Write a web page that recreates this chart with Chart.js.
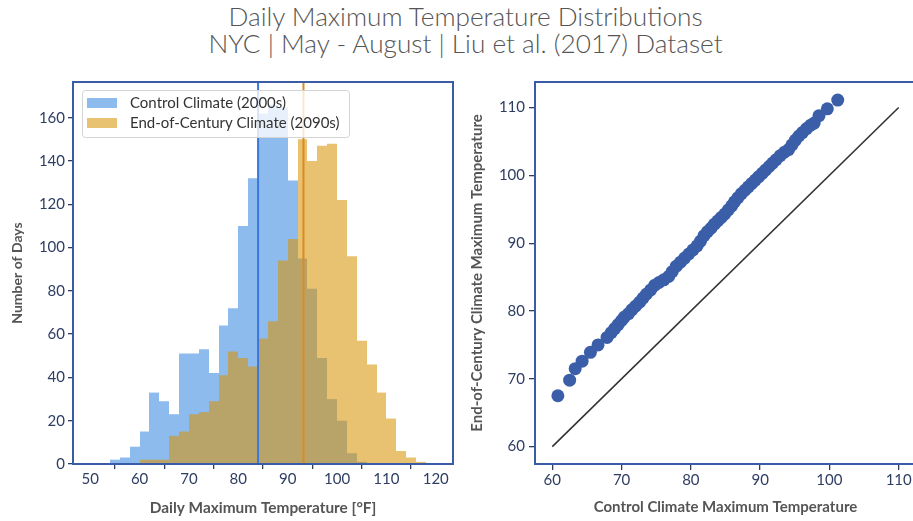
<!DOCTYPE html>
<html>
<head>
<meta charset="utf-8">
<script src="https://cdn.jsdelivr.net/npm/chart.js@4.4.0/dist/chart.umd.min.js"></script>
<style>
  body { margin: 0; width: 913px; height: 521px; overflow: hidden; background: #fff; position: relative; font-family: Lato, sans-serif; }
  #title { position: absolute; left: 9px; top: 3px; width: 913px; text-align: center; font-weight: 300; font-size: 26.2px; line-height: 27px; color: #555; }
  #histWrap { position: absolute; left: 0; top: 0; width: 460px; height: 521px; }
  #qqWrap { position: absolute; left: 460px; top: 0; width: 456px; height: 521px; }
</style>
</head>
<body>
<div id="title">Daily Maximum Temperature Distributions<br>NYC | May - August | Liu et al. (2017) Dataset</div>
<div id="histWrap"><canvas id="hist" width="460" height="521"></canvas></div>
<div id="qqWrap"><canvas id="qq" width="456" height="521"></canvas></div>
<script>
// histogram bins (centres of 2 °F bins) and day counts
const binCenters = [55, 57, 59, 61, 63, 65, 67, 69, 71, 73, 75, 77, 79, 81, 83, 85,
                    87, 89, 91, 93, 95, 97, 99, 101, 103, 105, 107, 109, 111, 113, 115, 117];
const controlCounts = [2, 3, 8, 15, 33, 29, 23, 51, 51, 53, 42, 64, 72, 110, 132, 162,
                       166, 165, 131, 95, 81, 49, 30, 20, 5, 1, 0, 0, 0, 0, 0, 0];
const futureCounts = [0, 0, 0, 2, 2, 2, 13, 15, 23, 24, 29, 41, 52, 49, 45, 58,
                      66, 94, 104, 150, 140, 147, 148, 122, 96, 57, 46, 33, 21, 6, 3, 1];
const controlMean = 84.0;
const futureMean = 93.2;
const legendLabels = ['Control Climate (2000s)', 'End-of-Century Climate (2090s)'];
const histXTicks = [50, 60, 70, 80, 90, 100, 110, 120];
const histYTicks = [0, 20, 40, 60, 80, 100, 120, 140, 160];

// quantile-quantile pairs
const controlQ = [60.8, 62.5, 63.3, 64.3, 65.5, 66.6, 67.9, 68.5, 69.0, 69.5, 70.0, 70.4, 71.0, 71.5,
                  72.0, 72.6, 73.1, 73.6, 74.2, 74.8, 75.4, 76.1, 76.8, 77.3, 77.9, 78.5, 79.1, 79.7,
                  80.3, 80.9, 81.4, 81.9, 82.4, 82.9, 83.4, 83.9, 84.4, 84.9, 85.4, 85.9, 86.3, 86.8,
                  87.3, 87.8, 88.3, 88.8, 89.3, 89.8, 90.3, 90.8, 91.3, 91.8, 92.3, 92.9, 93.5, 94.1,
                  94.6, 95.1, 95.6, 96.1, 96.7, 97.3, 97.8, 98.5, 99.7, 101.2];
const futureQ = [67.5, 69.8, 71.5, 72.6, 73.9, 75.0, 76.1, 76.8, 77.4, 78.0, 78.6, 79.1, 79.6, 80.2,
                 80.7, 81.3, 81.9, 82.5, 83.1, 83.8, 84.2, 84.6, 85.1, 85.8, 86.6, 87.2, 87.8, 88.4,
                 89.0, 89.6, 90.3, 91.1, 91.7, 92.2, 92.8, 93.3, 93.8, 94.3, 94.9, 95.5, 96.1, 96.7,
                 97.3, 97.8, 98.3, 98.8, 99.3, 99.8, 100.3, 100.8, 101.3, 101.8, 102.3, 102.9, 103.4, 103.8,
                 104.5, 105.2, 105.8, 106.3, 106.9, 107.4, 107.7, 108.8, 109.8, 111.1];
const diagLine = [60, 110];
const qqTicks = [60, 70, 80, 90, 100, 110];

const tickColor = '#2e3d62';
const frameColor = '#3a5ca6';
const titleColor = '#555';

// draw the full frame around the plot area
const frame = {
  id: 'frame',
  afterDraw(chart) {
    const a = chart.chartArea, ctx = chart.ctx;
    ctx.save();
    ctx.strokeStyle = frameColor;
    ctx.lineWidth = 2;
    ctx.strokeRect(a.left, a.top, a.right - a.left, a.bottom - a.top);
    ctx.restore();
  }
};

// snap bar edges to whole pixels so neighbouring bins don't show seams
const snapBars = {
  id: 'snapBars',
  beforeDatasetsDraw(chart) {
    chart.getSortedVisibleDatasetMetas().forEach(meta => {
      if (meta.type !== 'bar') return;
      meta.data.forEach(el => {
        const l = Math.round(el.x - el.width / 2);
        const r = Math.round(el.x + el.width / 2);
        el.x = (l + r) / 2;
        el.width = r - l;
      });
    });
  }
};

// matplotlib style legend box inside the histogram
const histLegend = {
  id: 'histLegend',
  afterDatasetsDraw(chart) {
    const ctx = chart.ctx, a = chart.chartArea;
    const x0 = a.left + 9, y0 = a.top + 8;
    ctx.save();
    ctx.fillStyle = 'rgba(255,255,255,0.8)';
    ctx.strokeStyle = '#d4d4d4';
    ctx.lineWidth = 1;
    ctx.beginPath();
    ctx.roundRect(x0 + 0.5, y0 + 0.5, 267, 47, 3);
    ctx.fill();
    ctx.stroke();
    ctx.font = '15px Lato';
    ctx.textBaseline = 'middle';
    legendLabels.forEach((lab, i) => {
      ctx.fillStyle = chart.data.datasets[i].backgroundColor;
      ctx.fillRect(x0 + 5, y0 + 8 + i * 20, 30, 10);
      ctx.fillStyle = '#333';
      ctx.fillText(lab, x0 + 48, y0 + 13.5 + i * 20);
    });
    ctx.restore();
  }
};

function fixedTicks(values) {
  return (axis) => { axis.ticks = values.map(v => ({ value: v })); };
}

// fixed axis thickness, and no extra room reserved for edge labels
function fixedSize(size) {
  return (axis) => {
    if (axis.isHorizontal()) axis.height = size; else axis.width = size;
    axis.paddingLeft = 0; axis.paddingRight = 0;
    axis.paddingTop = 0; axis.paddingBottom = 0;
  };
}

const tickFont = { family: 'Lato', size: 15 };
const axisTitleFont = { family: 'Lato', size: 15, weight: 'bold' };

new Chart(document.getElementById('hist'), {
  type: 'bar',
  data: {
    datasets: [
      {
        label: legendLabels[0],
        data: binCenters.map((b, i) => ({ x: b, y: controlCounts[i] })),
        backgroundColor: 'rgba(30,120,220,0.5)',
        order: 2,
      },
      {
        label: legendLabels[1],
        data: binCenters.map((b, i) => ({ x: b, y: futureCounts[i] })),
        backgroundColor: 'rgba(215,148,10,0.58)',
        order: 1,
      },
      {
        type: 'line',
        data: [{ x: controlMean, y: 0 }, { x: controlMean, y: 176.5 }],
        borderColor: '#3b78dc',
        borderWidth: 2,
        pointRadius: 0,
        order: 0,
      },
      {
        type: 'line',
        data: [{ x: futureMean, y: 0 }, { x: futureMean, y: 176.5 }],
        borderColor: '#dd8a1e',
        borderWidth: 2,
        pointRadius: 0,
        order: 0,
      },
    ],
  },
  options: {
    responsive: false,
    animation: false,
    grouped: false,
    barPercentage: 1,
    categoryPercentage: 1,
    inflateAmount: 0,
    layout: { autoPadding: false, padding: { left: 0, top: 82, right: 7, bottom: 0 } },
    plugins: { legend: { display: false }, tooltip: { enabled: false } },
    scales: {
      x: {
        type: 'linear',
        offset: false,
        min: 46.5,
        max: 123.5,
        afterBuildTicks: fixedTicks(histXTicks),
        afterFit: fixedSize(57),
        grid: { drawOnChartArea: false, color: tickColor, tickLength: 5, lineWidth: 1.3 },
        border: { color: frameColor, width: 2 },
        ticks: { color: tickColor, font: tickFont, padding: 1, maxRotation: 0 },
        title: { display: true, text: 'Daily Maximum Temperature [°F]', color: titleColor, font: { family: 'Lato', size: 15.4, weight: 'bold' }, padding: { bottom: 4 } },
      },
      y: {
        min: 0,
        max: 176.5,
        afterBuildTicks: fixedTicks(histYTicks),
        afterFit: fixedSize(73),
        grid: { drawOnChartArea: false, color: tickColor, tickLength: 5, lineWidth: 1.3 },
        border: { color: frameColor, width: 2 },
        ticks: { color: tickColor, font: tickFont, padding: 3 },
        title: { display: true, text: 'Number of Days', color: titleColor, font: { family: 'Lato', size: 14, weight: 'bold' }, padding: { top: 9 } },
      },
    },
  },
  plugins: [snapBars, frame, histLegend],
});

new Chart(document.getElementById('qq'), {
  type: 'scatter',
  data: {
    datasets: [
      {
        data: controlQ.map((c, i) => ({ x: c, y: futureQ[i] })),
        backgroundColor: '#3b5ea8',
        borderWidth: 0,
        pointRadius: 6.5,
        order: 0,
      },
      {
        type: 'line',
        data: diagLine.map(v => ({ x: v, y: v })),
        borderColor: '#333',
        borderWidth: 1.6,
        pointRadius: 0,
        order: 1,
      },
    ],
  },
  options: {
    responsive: false,
    animation: false,
    layout: { autoPadding: false, padding: { left: 0, top: 82, right: 0, bottom: 0 } },
    plugins: { legend: { display: false }, tooltip: { enabled: false } },
    scales: {
      x: {
        type: 'linear',
        min: 57.5,
        max: 112.5,
        afterBuildTicks: fixedTicks(qqTicks),
        afterFit: fixedSize(57),
        grid: { drawOnChartArea: false, color: tickColor, tickLength: 6, lineWidth: 1.3 },
        border: { color: frameColor, width: 2 },
        ticks: { color: tickColor, font: tickFont, padding: 1, maxRotation: 0 },
        title: { display: true, text: 'Control Climate Maximum Temperature', color: titleColor, font: axisTitleFont, padding: { bottom: 5 } },
      },
      y: {
        min: 57.44,
        max: 113.76,
        afterBuildTicks: fixedTicks(qqTicks),
        afterFit: fixedSize(75),
        grid: { drawOnChartArea: false, color: tickColor, tickLength: 6, lineWidth: 1.3 },
        border: { color: frameColor, width: 2 },
        ticks: { color: tickColor, font: tickFont, padding: 4 },
        title: { display: true, text: 'End-of-Century Climate Maximum Temperature', color: titleColor, font: axisTitleFont, padding: { top: 8 } },
      },
    },
  },
  plugins: [frame],
});
</script>
</body>
</html>
